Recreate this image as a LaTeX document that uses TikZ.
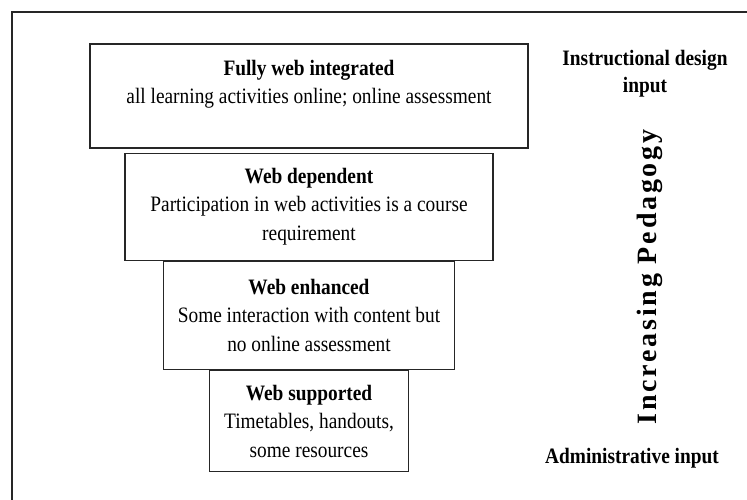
\documentclass[tikz,border=0pt]{standalone}
\usepackage{fontspec}
\setmainfont{Liberation Serif}[FakeStretch=0.88]
\newfontfamily\spacedFont{Liberation Serif}[LetterSpace=10]
\usetikzlibrary{positioning}
\tikzstyle{diagram} = [x = 1pt, y = -1pt]
\tikzstyle{frameLine} = [line width = 1.5pt, color=black!85]
\tikzstyle{levelBox} = [draw=black!85, line width = 1.2pt, text=black, align=center, inner sep=0pt, font=\fontsize{22}{28.5}\selectfont]
\tikzstyle{sideText} = [align=center, inner sep=0pt, font=\fontsize{22}{27}\selectfont\bfseries]
\newcommand{\levelText}[2]{\textbf{#1}\\#2}

\begin{document}
\begin{tikzpicture}[diagram]
  \useasboundingbox (0,0) rectangle (747,500);
  \draw [frameLine] (12,500) -- (12,12) -- (747,12);

  \node [levelBox, minimum width=438pt, minimum height=104pt] (fullyIntegrated) at (309,96)
    {\levelText{Fully web integrated}{all learning activities online; online assessment}\\ \mbox{}};
  \node [levelBox, minimum width=368pt, minimum height=107pt, below=4pt of fullyIntegrated] (webDependent)
    {\levelText{Web dependent}{Participation in web activities is a course\\ requirement}};
  \node [levelBox, minimum width=291pt, minimum height=108pt, below=0pt of webDependent] (webEnhanced)
    {\levelText{Web enhanced}{Some interaction with content but\\ no online assessment}};
  \node [levelBox, minimum width=199pt, minimum height=101pt, below=0pt of webEnhanced] (webSupported)
    {\levelText{Web supported}{Timetables, handouts,\\ some resources}};

  \node [sideText] (designInput) at (645,74) {Instructional design\\ input};
  \node [sideText, rotate=90, font=\fontsize{28}{30}\selectfont\spacedFont\bfseries] (pedagogyAxis) at (650,277) {Increasing Pedagogy};
  \node [sideText] (adminInput) at (632,458) {Administrative input};
\end{tikzpicture}
\end{document}
